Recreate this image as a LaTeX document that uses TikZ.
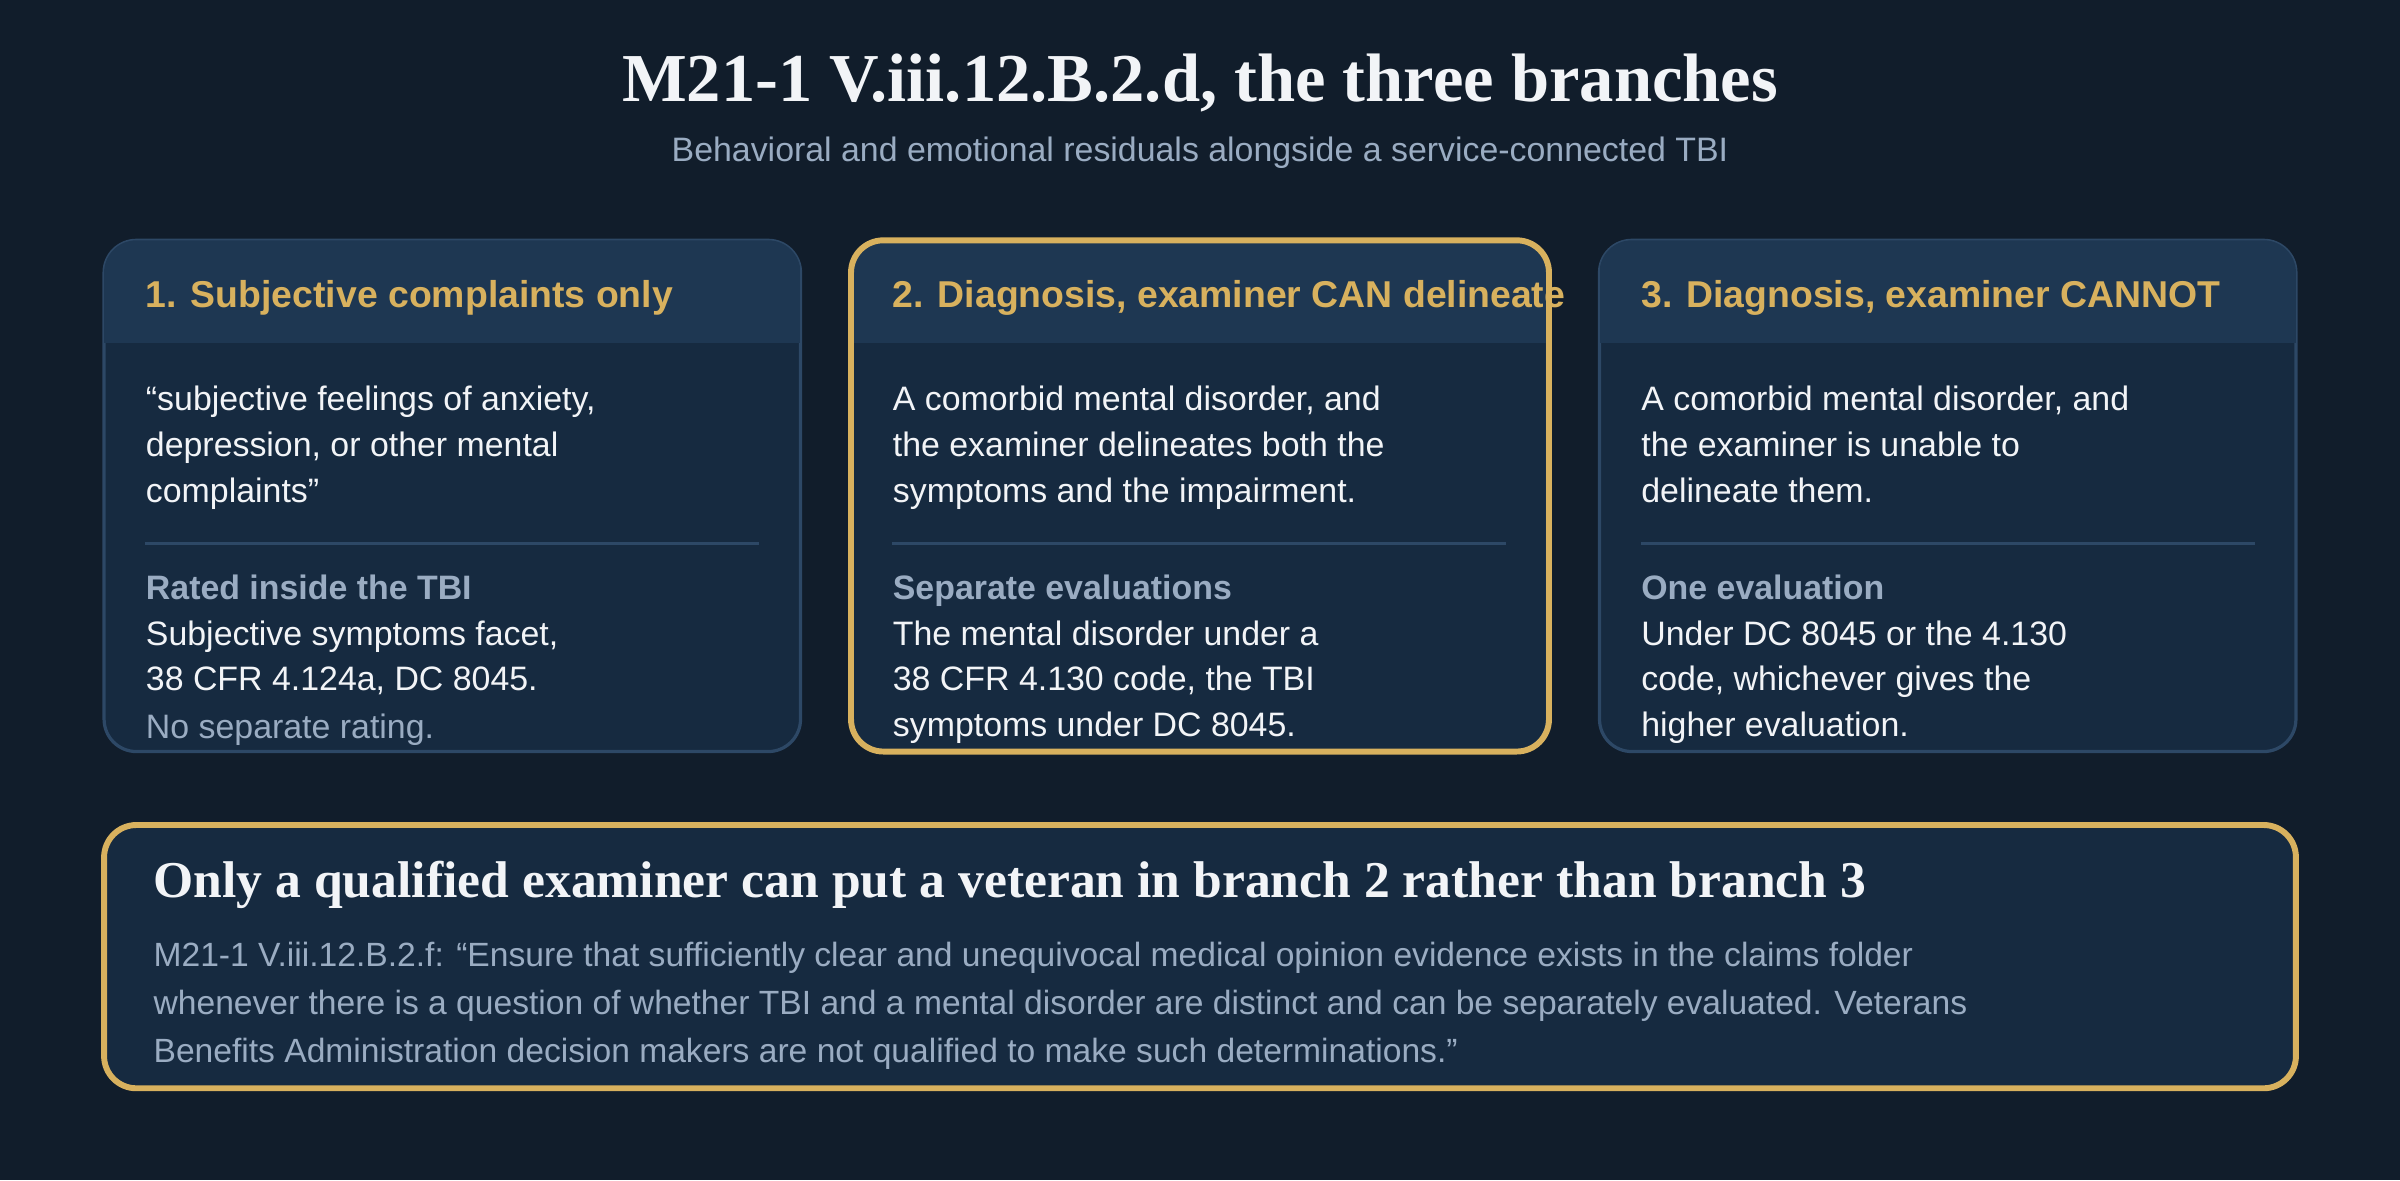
\documentclass[tikz,border=0pt]{standalone}
\usepackage{fontspec}
\setmainfont{Liberation Sans}
\newfontfamily\headserif{Liberation Serif}
\definecolor{bgnavy}{HTML}{111D2B}
\definecolor{cardfill}{HTML}{162A40}
\definecolor{cardhead}{HTML}{1E3752}
\definecolor{cardline}{HTML}{2D4866}
\definecolor{gold}{HTML}{D8B15E}
\definecolor{mutedtxt}{HTML}{9AACC2}
\definecolor{bodytxt}{HTML}{F2F4F7}

\begin{document}
\begin{tikzpicture}[x=0.02cm,y=-0.02cm,
  card/.style={rounded corners=12, draw=cardline, line width=1.2pt, fill=cardfill},
  pick/.style={rounded corners=12, draw=gold, line width=2.2pt},
  headtxt/.style={anchor=north west, inner sep=0, text=gold, font=\fontsize{13.9}{16}\selectfont\bfseries},
  bodyblk/.style={anchor=north west, inner sep=0, align=left, text=bodytxt, font=\fontsize{12.6}{17.1}\selectfont},
  tagtxt/.style={anchor=north west, inner sep=0, text=mutedtxt, font=\fontsize{12.6}{17.1}\selectfont\bfseries},
  rule/.style={cardline, line width=1.2pt}]
\fill[bgnavy] (0,0) rectangle (1568,771);

% title
\node[text=bodytxt, font=\headserif\fontsize{25.5}{30}\selectfont\bfseries] (title) at (784,54) {M21-1 V.iii.12.B.2.d, the three branches};
\node[text=mutedtxt, font=\fontsize{12.6}{15}\selectfont] (subtitle) at (784,100) {Behavioral and emotional residuals alongside a service-connected TBI};

% three cards
\foreach \xa/\nm in {68/one,556/two,1045/three} {
  \draw[card] (\xa,157) rectangle ++(455,334);
  \begin{scope}
    \clip[rounded corners=12] (\xa,157) rectangle ++(455,334);
    \fill[cardhead] (\xa,157) rectangle ++(455,67);
  \end{scope}
  \draw[rule] (\xa+27,355) -- ++(401,0);
}
\draw[pick] (556,157) rectangle (1012,491);

% card 1
\node[headtxt] (h1) at (95,183) {1. Subjective complaints only};
\node[bodyblk] (b1) at (95,252) {“subjective feelings of anxiety,\\depression, or other mental\\complaints”};
\node[tagtxt] (t1) at (95,375) {Rated inside the TBI};
\node[bodyblk] (r1) at (95,405) {Subjective symptoms facet,\\38 CFR 4.124a, DC 8045.};
\node[bodyblk, text=mutedtxt] (n1) at (95,466) {No separate rating.};

% card 2
\node[headtxt] (h2) at (583,183) {2. Diagnosis, examiner CAN delineate};
\node[bodyblk] (b2) at (583,252) {A comorbid mental disorder, and\\the examiner delineates both the\\symptoms and the impairment.};
\node[tagtxt] (t2) at (583,375) {Separate evaluations};
\node[bodyblk] (r2) at (583,405) {The mental disorder under a\\38 CFR 4.130 code, the TBI\\symptoms under DC 8045.};

% card 3
\node[headtxt] (h3) at (1072,183) {3. Diagnosis, examiner CANNOT};
\node[bodyblk] (b3) at (1072,252) {A comorbid mental disorder, and\\the examiner is unable to\\delineate them.};
\node[tagtxt] (t3) at (1072,375) {One evaluation};
\node[bodyblk] (r3) at (1072,405) {Under DC 8045 or the 4.130\\code, whichever gives the\\higher evaluation.};

% bottom note
\draw[rounded corners=12, fill=cardfill, draw=gold, line width=2.2pt] (68,539) rectangle (1500,711);
\node[anchor=west, inner sep=0, text=bodytxt, font=\headserif\fontsize{19.2}{22}\selectfont\bfseries] (note) at (100,578) {Only a qualified examiner can put a veteran in branch 2 rather than branch 3};
\node[anchor=north west, inner sep=0, align=left, text=mutedtxt, font=\fontsize{12.5}{17.9}\selectfont] (quote) at (100,615) {M21-1 V.iii.12.B.2.f: “Ensure that sufficiently clear and unequivocal medical opinion evidence exists in the claims folder\\whenever there is a question of whether TBI and a mental disorder are distinct and can be separately evaluated. Veterans\\Benefits Administration decision makers are not qualified to make such determinations.”};
\end{tikzpicture}
\end{document}
